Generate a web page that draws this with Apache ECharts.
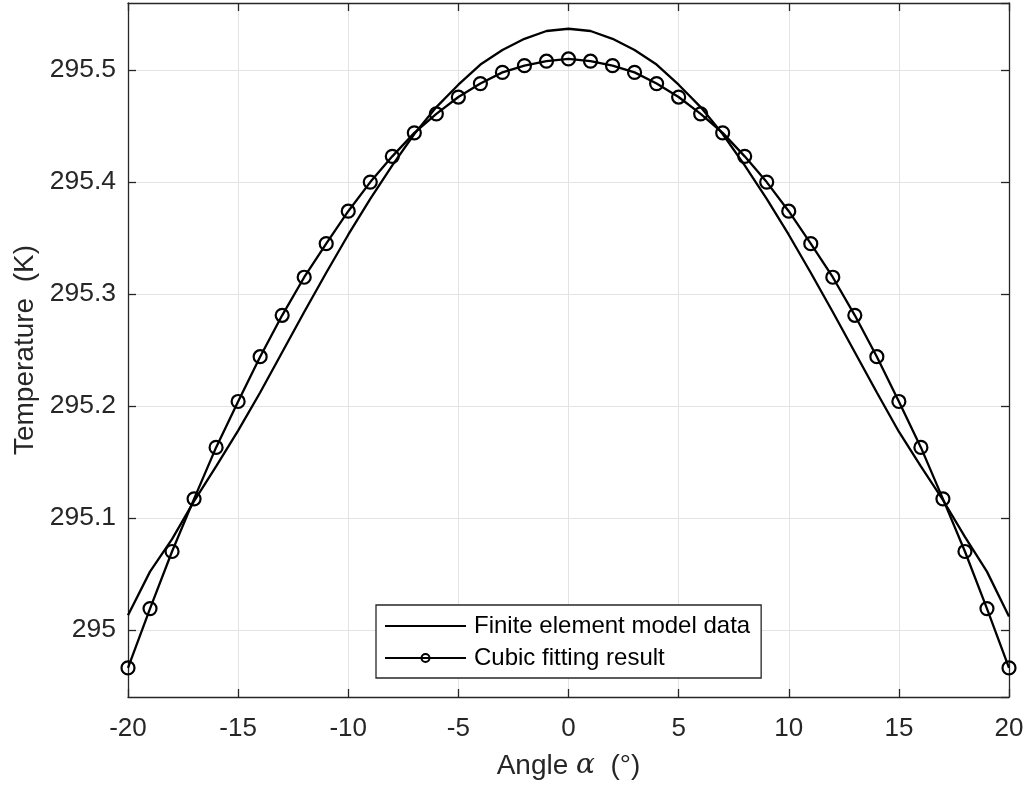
<!DOCTYPE html>
<html>
<head>
<meta charset="utf-8">
<script src="https://cdn.jsdelivr.net/npm/echarts@6/dist/echarts.min.js"></script>
<style>
html,body{margin:0;padding:0;background:#fff;}
#chart{width:1029px;height:790px;}
</style>
</head>
<body>
<div id="chart"></div>
<script>
const angles = [-20,-19,-18,-17,-16,-15,-14,-13,-12,-11,-10,-9,-8,-7,-6,-5,-4,-3,-2,-1,0,1,2,3,4,5,6,7,8,9,10,11,12,13,14,15,16,17,18,19,20];
const feTemp = [295.013,295.052,295.081,295.115,295.146,295.178,295.212,295.248,295.284,295.319,295.353,295.385,295.415,295.443,295.467,295.487,295.505,295.518,295.528,295.535,295.537,295.535,295.528,295.518,295.505,295.487,295.467,295.443,295.415,295.385,295.353,295.319,295.284,295.248,295.212,295.177,295.146,295.116,295.083,295.052,295.012];
const fitTemp = [294.966,295.019,295.070,295.117,295.163,295.204,295.244,295.281,295.315,295.345,295.374,295.400,295.423,295.444,295.461,295.476,295.488,295.498,295.504,295.508,295.510,295.508,295.504,295.498,295.488,295.476,295.461,295.444,295.423,295.400,295.374,295.345,295.315,295.281,295.244,295.204,295.163,295.117,295.070,295.019,294.966];
const xTicks = [-20,-15,-10,-5,0,5,10,15,20];
const yTicks = [295,295.1,295.2,295.3,295.4,295.5];
const seriesNames = ['Finite element model data','Cubic fitting result'];
const xLabel = 'Angle';
const yLabel = 'Temperature  (K)';

const axisColor = '#262626';
const gridColor = '#e3e3e3';
const fontFam = '"Liberation Sans", Arial, Helvetica, sans-serif';

const chart = echarts.init(document.getElementById('chart'));
const xBase = {
  type: 'value', min: xTicks[0], max: xTicks[xTicks.length-1], interval: 5,
  axisLine: {show: true, onZero: false, lineStyle: {color: axisColor, width: 1.3}},
  axisTick: {show: true, inside: true, length: 8, lineStyle: {color: axisColor, width: 1.3}}
};
const yBase = {
  type: 'value', min: 294.94, max: 295.56, splitNumber: 6,
  axisLine: {show: true, onZero: false, lineStyle: {color: axisColor, width: 1.3}},
  axisTick: {show: true, inside: true, length: 8, lineStyle: {color: axisColor, width: 1.3}}
};
const fe = angles.map((a,i)=>[a, feTemp[i]]);
const fit = angles.map((a,i)=>[a, fitTemp[i]]);

chart.setOption({
  animation: false,
  backgroundColor: '#fff',
  grid: {left: 128, right: 20, top: 3, bottom: 93, containLabel: false},
  xAxis: [
    Object.assign({}, xBase, {
      position: 'bottom',
      name: '{a|' + xLabel + ' }{b|α}{a|  (°)}',
      nameLocation: 'middle', nameGap: 55,
      nameTextStyle: {rich: {
        a: {fontSize: 28, color: axisColor, fontFamily: fontFam},
        b: {fontSize: 28, color: axisColor, fontFamily: '"DejaVu Serif", "Liberation Serif", serif', fontStyle: 'italic'}
      }},
      axisLabel: {show: true, fontSize: 26, color: axisColor, fontFamily: fontFam, margin: 19,
        formatter: v => xTicks.includes(v) ? String(v) : ''},
      splitLine: {show: true, lineStyle: {color: gridColor, width: 1}}
    }),
    Object.assign({}, xBase, {position: 'top', axisLabel: {show: false}, splitLine: {show: false}})
  ],
  yAxis: [
    Object.assign({}, yBase, {
      position: 'left',
      name: yLabel, nameLocation: 'middle', nameGap: 88,
      nameTextStyle: {fontSize: 28, color: axisColor, fontFamily: fontFam},
      axisLabel: {show: true, fontSize: 26.5, color: axisColor, fontFamily: fontFam, margin: 12,
        showMinLabel: false, showMaxLabel: false,
        formatter: v => { const t = yTicks.find(k => Math.abs(k - v) < 1e-6); return t === undefined ? '' : String(t); }},
      splitLine: {show: true, lineStyle: {color: gridColor, width: 1}}
    }),
    Object.assign({}, yBase, {position: 'right', axisLabel: {show: false}, splitLine: {show: false}})
  ],
  legend: {
    show: true, orient: 'vertical', left: 376, top: 605,
    padding: [9, 11, 8, 8], itemWidth: 81, itemHeight: 10, itemGap: 8,
    backgroundColor: '#fff', borderColor: axisColor, borderWidth: 1.3, borderRadius: 0,
    textStyle: {fontSize: 24, color: '#000', fontFamily: fontFam, padding: [0,0,0,3]},
    data: [
      {name: seriesNames[0], itemStyle: {color: 'rgba(0,0,0,0)', borderWidth: 0, opacity: 0}},
      {name: seriesNames[1]}
    ]
  },
  series: [
    {
      name: seriesNames[0], type: 'line', data: fe, xAxisIndex: 0, yAxisIndex: 0,
      showSymbol: false, symbol: 'none', smooth: false,
      lineStyle: {color: '#000', width: 2.3}, itemStyle: {color: '#000'}
    },
    {
      name: seriesNames[1], type: 'line', data: fit, xAxisIndex: 0, yAxisIndex: 0,
      symbol: 'circle', symbolSize: 13, showSymbol: true, smooth: false,
      lineStyle: {color: '#000', width: 2.3},
      itemStyle: {color: 'rgba(0,0,0,0)', borderColor: '#000', borderWidth: 2.2}
    }
  ]
});
</script>
</body>
</html>
